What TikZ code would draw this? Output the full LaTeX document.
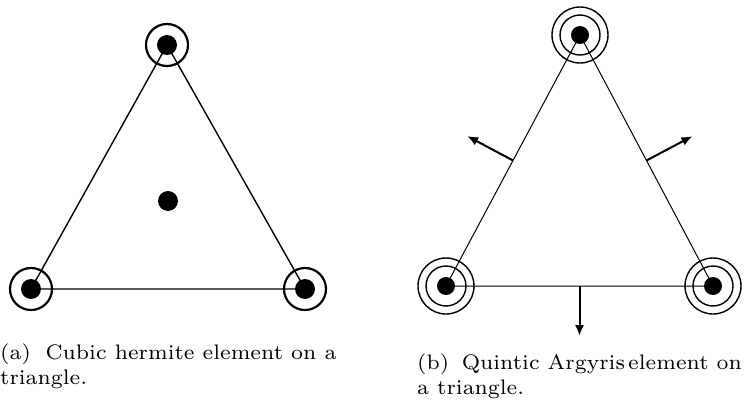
\documentclass[tikz,border=0pt]{standalone}
\usepackage{fontspec}
\usetikzlibrary{calc,arrows.meta}
\newfontfamily\capfont{lmroman7-regular.otf}
\begin{document}
\begin{tikzpicture}[x=1pt,y=1pt,
  dotnode/.style={circle,fill=black,inner sep=0pt,minimum size=20pt},
  ringA/.style={line width=2.2pt},
  edgeA/.style={line width=1.4pt},
  ringB/.style={line width=1.4pt},
  edgeB/.style={line width=1pt},
  normalarrow/.style={line width=2pt,-{Latex[length=11pt,width=9pt]}},
  captext/.style={anchor=base west,inner sep=0pt,font=\capfont\fontsize{21}{25}\selectfont}]
\useasboundingbox (0,0) rectangle (753,408);
% ---------- (a) cubic hermite
\coordinate (aT) at (167,363);
\coordinate (aL) at (31,119);
\coordinate (aR) at (305,119);
\draw[edgeA] (aT) -- (aL) -- (aR) -- cycle;
\foreach \v in {aT,aL,aR}{
  \draw[ringA] (\v) circle (21);
  \node[dotnode] (\v d) at (\v) {};
}
\node[dotnode] (aC) at (168,207) {};
% ---------- (b) quintic Argyris
\coordinate (bT) at (580,373);
\coordinate (bL) at (446,122);
\coordinate (bR) at (713,122);
\draw[edgeB] (bT) -- (bL) -- (bR) -- cycle;
\foreach \v in {bT,bL,bR}{
  \draw[ringB] (\v) circle (20);
  \draw[ringB] (\v) circle (28);
  \node[dotnode,minimum size=18pt] (\v d) at (\v) {};
}
\coordinate (mL) at ($(bL)!0.5!(bT)$);
\coordinate (mR) at ($(bR)!0.5!(bT)$);
\coordinate (mB) at ($(bL)!0.5!(bR)$);
\coordinate (nL) at ($(mL)!52pt!90:(bT)$);
\coordinate (nR) at ($(mR)!52pt!-90:(bT)$);
\coordinate (nB) at ($(mB)!50pt!-90:(bR)$);
\draw[normalarrow] (mL) -- (nL);
\draw[normalarrow] (mR) -- (nR);
\draw[normalarrow] (mB) -- (nB);
% ---------- captions
\node[captext] (capA1) at (0,49) {(a)\hspace{0.7em}Cubic hermite element on a};
\node[captext] (capA2) at (0,24) {triangle.};
\node[captext] (capB1) at (417,39) {(b)\hspace{0.6em}Quintic Argyris\hspace{0.15em}element on};
\node[captext] (capB2) at (417,14) {a triangle.};
\end{tikzpicture}
\end{document}
